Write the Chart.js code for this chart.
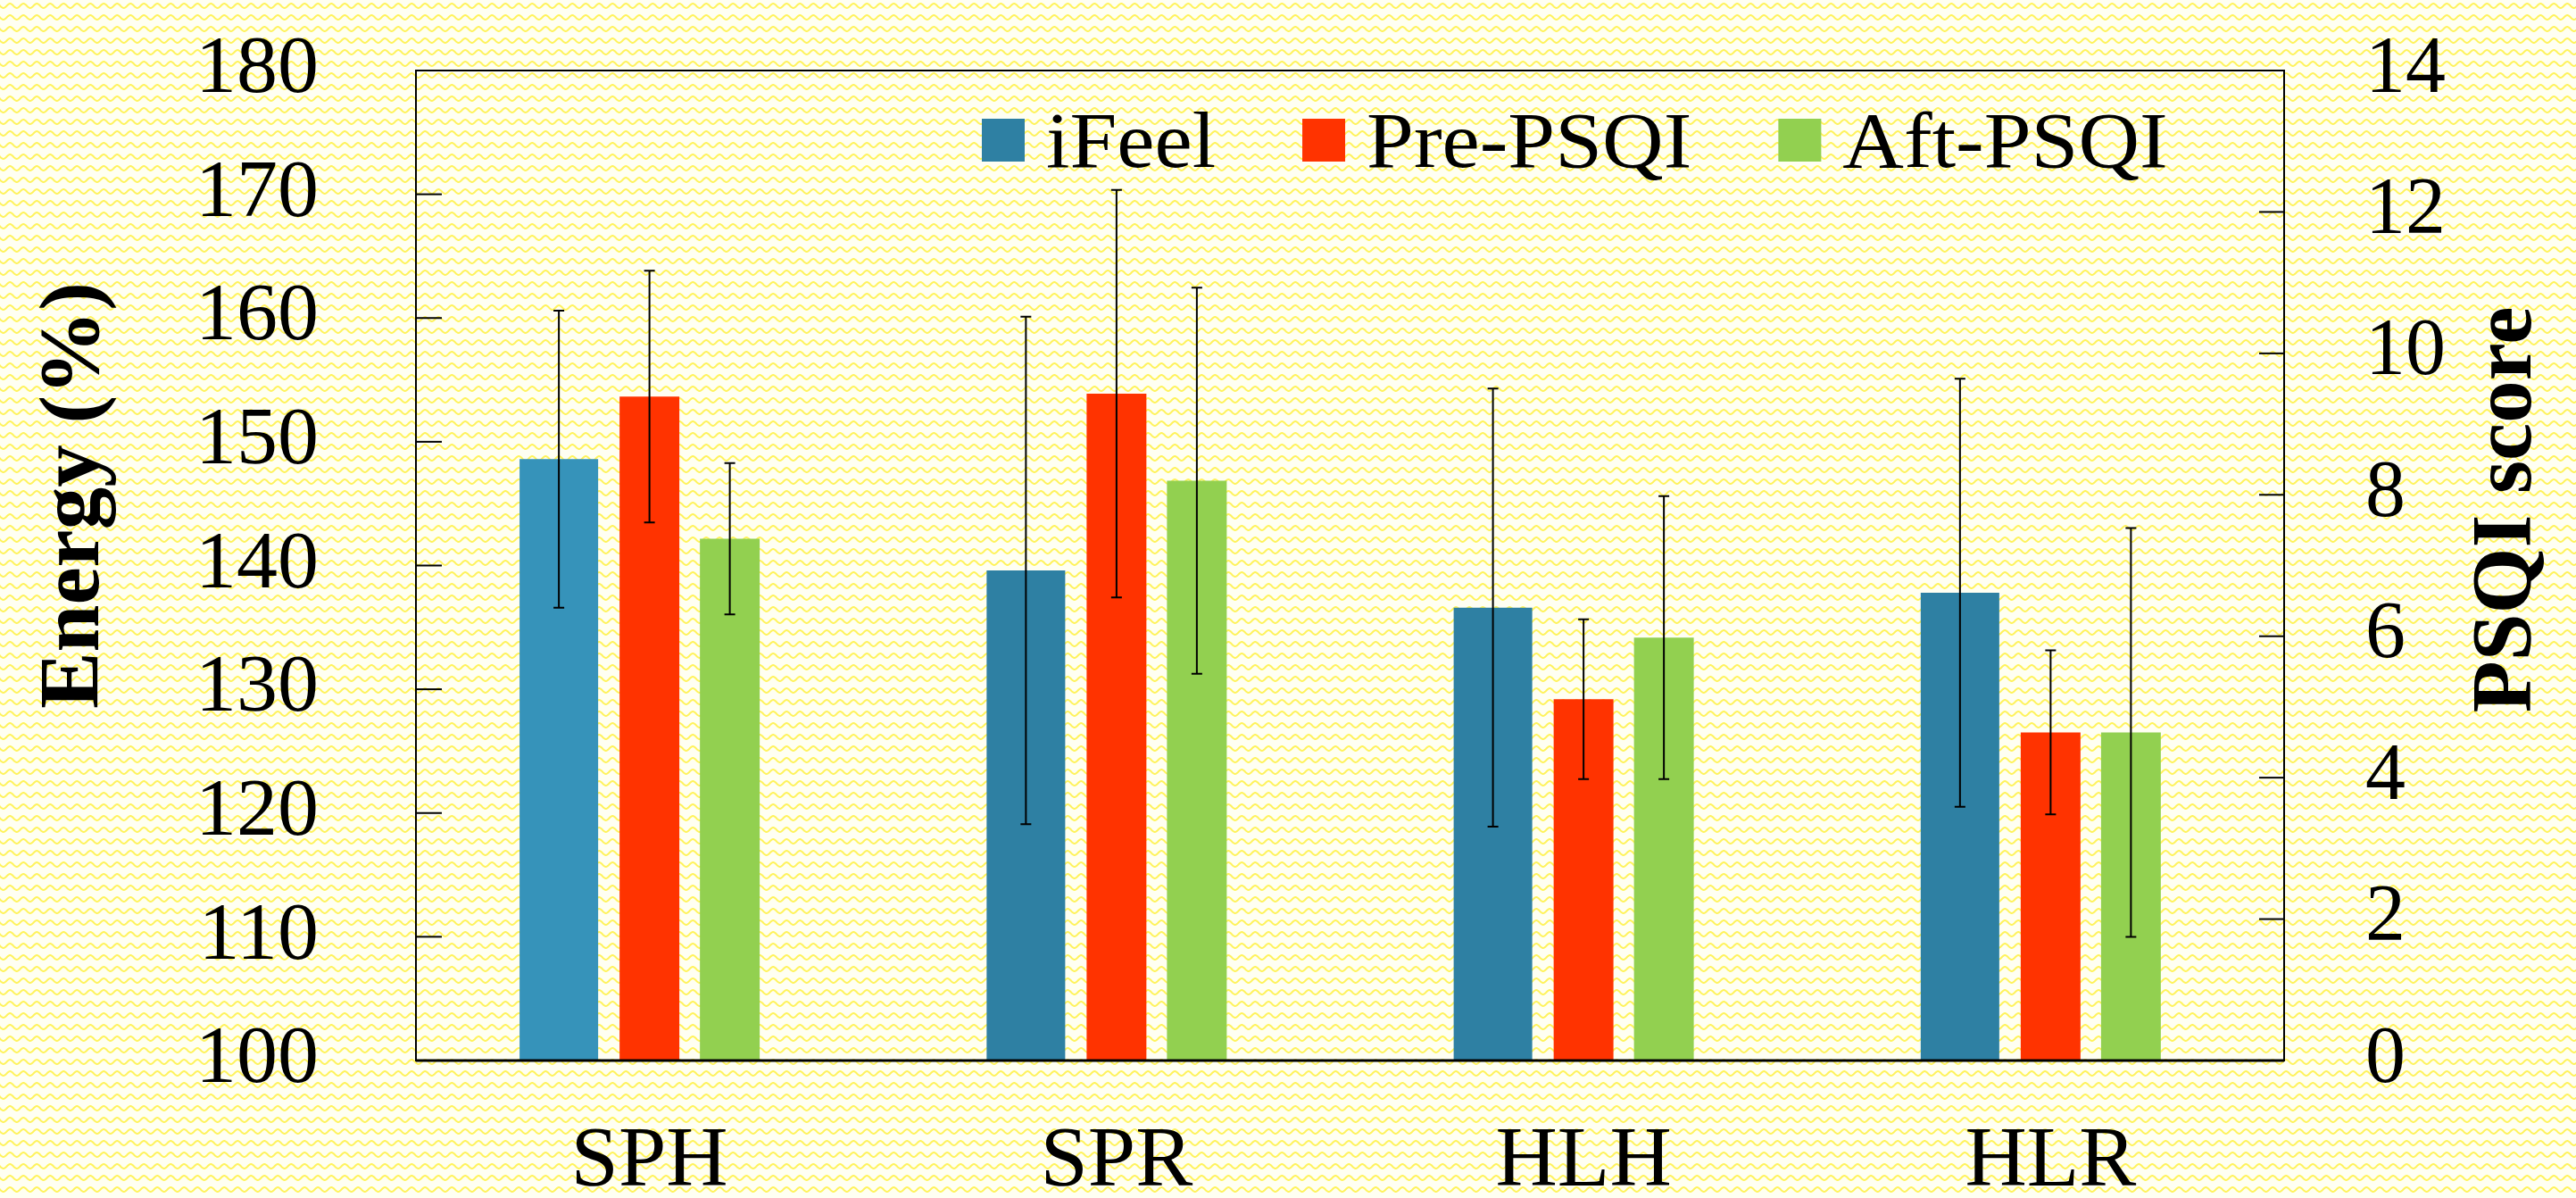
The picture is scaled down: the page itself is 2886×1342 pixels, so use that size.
<!DOCTYPE html>
<html>
<head>
<meta charset="utf-8">
<script src="https://cdn.jsdelivr.net/npm/chart.js@4.4.1/dist/chart.umd.min.js"></script>
<style>
  html, body { margin: 0; padding: 0; background: #fffff0; }
  #wrap { width: 2886px; height: 1342px; }
</style>
</head>
<body>
<div id="wrap"><canvas id="chart" width="2886" height="1342"></canvas></div>
<script>
// 类别与数据
const categories = ['SPH', 'SPR', 'HLH', 'HLR'];
const seriesNames = ['iFeel', 'Pre-PSQI', 'Aft-PSQI'];
const ifeelMean = [148.6, 139.6, 136.6, 137.8];
const ifeelErr = [12.0, 20.5, 17.7, 17.3];
const prePsqiMean = [9.39, 9.43, 5.11, 4.64];
const prePsqiErr = [1.78, 2.88, 1.13, 1.16];
const aftPsqiMean = [7.38, 8.20, 5.98, 4.64];
const aftPsqiErr = [1.07, 2.73, 2.00, 2.89];
const energyTicks = [100, 110, 120, 130, 140, 150, 160, 170, 180];
const psqiTicks = [0, 2, 4, 6, 8, 10, 12, 14];

const SERIF = "'Liberation Serif', 'Times New Roman', serif";
const errs = [ifeelErr, prePsqiErr, aftPsqiErr];

/** 黄色波纹背景 */
function makePattern(ctx) {
  const t = document.createElement('canvas');
  t.width = 15; t.height = 13;
  const p = t.getContext('2d');
  p.fillStyle = '#fffff2';
  p.fillRect(0, 0, 15, 13);
  p.strokeStyle = '#fff35c';
  p.lineWidth = 2;
  p.beginPath();
  for (let x = -1; x <= 16; x += 0.5) {
    const y = 6.5 + 2.4 * Math.sin(2 * Math.PI * x / 15);
    if (x === -1) p.moveTo(x, y); else p.lineTo(x, y);
  }
  p.stroke();
  return ctx.createPattern(t, 'repeat');
}

const bgPlugin = {
  id: 'bg',
  beforeDraw(chart) {
    const ctx = chart.ctx;
    ctx.save();
    ctx.fillStyle = makePattern(ctx);
    ctx.fillRect(0, 0, chart.width, chart.height);
    ctx.restore();
  }
};

/** 边框、内向刻度、误差线 */
const framePlugin = {
  id: 'frame',
  afterDatasetsDraw(chart) {
    const ctx = chart.ctx, a = chart.chartArea;
    ctx.save();
    ctx.strokeStyle = '#000';
    // 误差线
    ctx.lineWidth = 2;
    chart.data.datasets.forEach((ds, di) => {
      const meta = chart.getDatasetMeta(di);
      const sc = chart.scales[ds.yAxisID];
      meta.data.forEach((bar, i) => {
        const hi = sc.getPixelForValue(ds.data[i] + errs[di][i]);
        const lo = sc.getPixelForValue(ds.data[i] - errs[di][i]);
        ctx.beginPath();
        ctx.moveTo(bar.x, hi); ctx.lineTo(bar.x, lo);
        ctx.moveTo(bar.x - 6, hi); ctx.lineTo(bar.x + 6, hi);
        ctx.moveTo(bar.x - 6, lo); ctx.lineTo(bar.x + 6, lo);
        ctx.stroke();
      });
    });
    // 刻度（朝内）
    const y = chart.scales.y, y1 = chart.scales.y1;
    y.ticks.forEach((t, i) => {
      const py = y.getPixelForTick(i);
      ctx.beginPath(); ctx.moveTo(a.left, py); ctx.lineTo(a.left + 29, py); ctx.stroke();
    });
    y1.ticks.forEach((t, i) => {
      const py = y1.getPixelForTick(i);
      ctx.beginPath(); ctx.moveTo(a.right, py); ctx.lineTo(a.right - 28, py); ctx.stroke();
    });
    // 边框
    ctx.strokeRect(a.left, a.top, a.right - a.left, a.bottom - a.top);
    ctx.lineWidth = 3;
    ctx.beginPath(); ctx.moveTo(a.left, a.bottom); ctx.lineTo(a.right, a.bottom); ctx.stroke();
    ctx.restore();
  }
};

/** 图例 + 坐标轴标题 */
const labelPlugin = {
  id: 'labels',
  afterDraw(chart) {
    const ctx = chart.ctx;
    ctx.save();
    // 图例（文字横向略拉宽）
    ctx.font = '88px ' + SERIF;
    ctx.textBaseline = 'alphabetic';
    ctx.textAlign = 'left';
    const sx = 1.08;
    let x = 1100;
    chart.data.datasets.forEach(ds => {
      ctx.fillStyle = ds.legendColor;
      ctx.fillRect(x, 133, 48, 48);
      ctx.fillStyle = '#000';
      const tx = x + 72;
      ctx.save();
      ctx.translate(tx, 187);
      ctx.scale(sx, 1);
      ctx.fillText(ds.label, 0, 0);
      ctx.restore();
      x = tx + ctx.measureText(ds.label).width * sx + 97;
    });
    // 坐标轴标题
    ctx.fillStyle = '#000';
    ctx.font = 'bold 95px ' + SERIF;
    ctx.textAlign = 'center';
    ctx.save();
    ctx.translate(110, 555);
    ctx.rotate(-Math.PI / 2);
    ctx.fillText('Energy (%)', 0, 0);
    ctx.restore();
    ctx.save();
    ctx.translate(2835, 571);
    ctx.rotate(-Math.PI / 2);
    ctx.fillText('PSQI score', 0, 0);
    ctx.restore();
    ctx.restore();
  }
};

function noPad(s) {
  s.paddingTop = 0; s.paddingBottom = 0; s.paddingLeft = 0; s.paddingRight = 0;
}

new Chart(document.getElementById('chart').getContext('2d'), {
  type: 'bar',
  data: {
    labels: categories,
    datasets: [
      { label: seriesNames[0], data: ifeelMean, yAxisID: 'y',
        backgroundColor: ['#3693ba', '#2e80a3', '#2e80a3', '#2e80a3'], legendColor: '#2e80a3',
        categoryPercentage: 0.582, barPercentage: 0.867 },
      { label: seriesNames[1], data: prePsqiMean, yAxisID: 'y1',
        backgroundColor: '#ff3300', legendColor: '#ff3300',
        categoryPercentage: 0.55, barPercentage: 0.698 },
      { label: seriesNames[2], data: aftPsqiMean, yAxisID: 'y1',
        backgroundColor: '#92d050', legendColor: '#92d050',
        categoryPercentage: 0.516, barPercentage: 0.744 }
    ]
  },
  options: {
    responsive: false,
    devicePixelRatio: 1,
    animation: false,
    layout: { padding: { top: 79, left: 0, right: 0, bottom: 0 } },
    plugins: { legend: { display: false }, tooltip: { enabled: false } },
    scales: {
      x: {
        offset: true,
        grid: { display: false, drawTicks: false },
        border: { display: false },
        ticks: { color: '#000', font: { family: SERIF, size: 96 }, padding: 57, maxRotation: 0 },
        afterFit(s) { s.height = 154; noPad(s); }
      },
      y: {
        position: 'left', min: 100, max: 180,
        grid: { display: false, drawTicks: false },
        border: { display: false },
        afterBuildTicks(s) { s.ticks = energyTicks.map(v => ({ value: v })); },
        ticks: { color: '#000', font: { family: SERIF, size: 92 }, padding: 109 },
        afterFit(s) { s.width = 466; noPad(s); }
      },
      y1: {
        position: 'right', min: 0, max: 14,
        grid: { display: false, drawTicks: false },
        border: { display: false },
        afterBuildTicks(s) { s.ticks = psqiTicks.map(v => ({ value: v })); },
        ticks: { color: '#000', font: { family: SERIF, size: 90 }, padding: 91 },
        afterFit(s) { s.width = 327; noPad(s); }
      }
    }
  },
  plugins: [bgPlugin, framePlugin, labelPlugin]
});
</script>
</body>
</html>
